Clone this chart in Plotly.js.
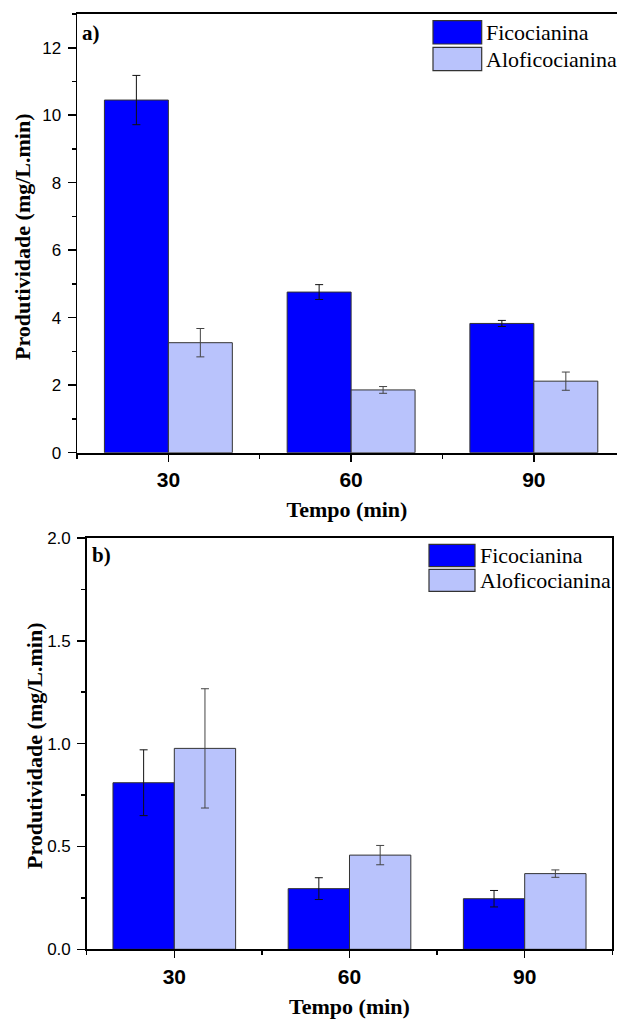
<!DOCTYPE html>
<html><head><meta charset="utf-8">
<script src="https://cdn.plot.ly/plotly-3.0.1.min.js"></script>
<style>html,body{margin:0;padding:0;overflow:hidden;background:#fff}#c{width:617px;height:1022px}</style>
</head><body><div id="c"></div>
<script>
// ---- data ----
const tempos = [30, 60, 90];
const tickLabels = ['30', '60', '90'];
const seriesNames = ['Ficocianina', 'Aloficocianina'];
// panel a)
const ficoA = [10.45, 4.76, 3.83];
const ficoAErr = [0.73, 0.22, 0.09];
const aloA = [3.26, 1.86, 2.12];
const aloAErr = [0.42, 0.10, 0.27];
// panel b)
const ficoB = [0.81, 0.295, 0.246];
const ficoBErr = [0.16, 0.053, 0.04];
const aloB = [0.977, 0.458, 0.368];
const aloBErr = [0.29, 0.047, 0.018];

const W = 617, H = 1022;
const px = x => x / W;
const py = y => 1 - y / H;
const colFico = '#0000FF', colAlo = '#B9C3FC';
const serif = 'Liberation Serif';
const sans = 'Liberation Sans';

function bar(x, y, err, name, color, ecolor, xa, ya) {
  return {type: 'bar', x: x, y: y, name: name, xaxis: xa, yaxis: ya, showlegend: false,
    marker: {color: color, line: {color: '#333', width: 1}},
    error_y: {type: 'data', array: err, visible: true, color: ecolor, thickness: 1, width: 4}};
}
const data = [
  bar(tempos, ficoA, ficoAErr, seriesNames[0], colFico, '#111', 'x', 'y'),
  bar(tempos, aloA, aloAErr, seriesNames[1], colAlo, '#444', 'x', 'y'),
  bar(tempos, ficoB, ficoBErr, seriesNames[0], colFico, '#111', 'x2', 'y2'),
  bar(tempos, aloB, aloBErr, seriesNames[1], colAlo, '#444', 'x2', 'y2')
];

const xCommon = {type: 'linear', tickvals: tempos, ticktext: tickLabels, showgrid: false, zeroline: false,
  showline: true, linecolor: '#000', linewidth: 2, ticks: 'outside', ticklen: 7, tickwidth: 1.5, tickcolor: '#000',
  minor: {dtick: 15, tick0: 0, ticks: 'outside', ticklen: 4, tickwidth: 1.5, tickcolor: '#000'},
  tickfont: {family: sans, size: 21, color: '#000', weight: 'bold'},
  title: {text: '<b>Tempo (min)</b>', font: {family: serif, size: 22, color: '#000'}, standoff: 12}};
const yCommon = {showgrid: false, zeroline: false, showline: true, linecolor: '#000', linewidth: 1.5,
  ticks: 'outside', ticklen: 8, tickwidth: 1.5, tickcolor: '#000', ticklabelstandoff: 3,
  tickfont: {family: sans, size: 17, color: '#000'}};
const yTitle = '<b>Produtividade (mg/L.min)</b>';
const yTitleFont = {family: serif, size: 22, color: '#000'};

const layout = {
  width: W, height: H, margin: {l: 0, r: 0, t: 0, b: 0}, paper_bgcolor: '#fff', plot_bgcolor: '#fff',
  barmode: 'group', bargap: 0.3, bargroupgap: 0, showlegend: false,
  xaxis: Object.assign({}, xCommon, {domain: [px(77), 1], range: [15, 103.65], anchor: 'y', mirror: true}),
  yaxis: Object.assign({}, yCommon, {domain: [py(452.7), py(14)], range: [0, 13], dtick: 2, tick0: 0, anchor: 'x',
    minor: {dtick: 1, ticks: 'outside', ticklen: 4, tickwidth: 1.5, tickcolor: '#000'}}),
  xaxis2: Object.assign({}, xCommon, {domain: [px(86.7), px(612.3)], range: [15, 105], anchor: 'y2', mirror: true}),
  yaxis2: Object.assign({}, yCommon, {domain: [py(949.3), py(538)], range: [0, 2], dtick: 0.5, tick0: 0, tickformat: '.1f', anchor: 'x2', mirror: true,
    minor: {dtick: 0.25, ticks: 'outside', ticklen: 4, tickwidth: 1.5, tickcolor: '#000'}}),
  shapes: [], annotations: []
};

// y-axis titles placed as rotated annotations
layout.annotations.push({xref: 'paper', yref: 'paper', x: px(23), y: py(237), xanchor: 'center', yanchor: 'middle',
  textangle: -90, showarrow: false, text: yTitle, font: yTitleFont});
layout.annotations.push({xref: 'paper', yref: 'paper', x: px(34), y: py(746), xanchor: 'center', yanchor: 'middle',
  textangle: -90, showarrow: false, text: yTitle, font: yTitleFont});

function legend(x0, x1, ys, tx) {
  const cols = [colFico, colAlo];
  ys.forEach((yy, i) => {
    layout.shapes.push({type: 'rect', xref: 'paper', yref: 'paper', x0: px(x0), x1: px(x1), y0: py(yy[1]), y1: py(yy[0]),
      fillcolor: cols[i], line: {color: '#333', width: 1.2}});
    layout.annotations.push({xref: 'paper', yref: 'paper', x: px(tx), y: py((yy[0] + yy[1]) / 2), xanchor: 'left', yanchor: 'middle',
      showarrow: false, text: seriesNames[i], font: {family: serif, size: 22, color: '#000'}});
  });
}
legend(433, 481.7, [[20.7, 44], [47.3, 70.7]], 484);
legend(429, 475, [[544.3, 566.7], [569.3, 591.3]], 478);

layout.annotations.push({xref: 'paper', yref: 'paper', x: px(80), y: py(33), xanchor: 'left', yanchor: 'middle', showarrow: false,
  text: '<b>a)</b>', font: {family: serif, size: 21, color: '#000'}});
layout.annotations.push({xref: 'paper', yref: 'paper', x: px(90), y: py(555), xanchor: 'left', yanchor: 'middle', showarrow: false,
  text: '<b>b)</b>', font: {family: serif, size: 21, color: '#000'}});

Plotly.newPlot('c', data, layout, {staticPlot: true, displayModeBar: false});
</script></body></html>
